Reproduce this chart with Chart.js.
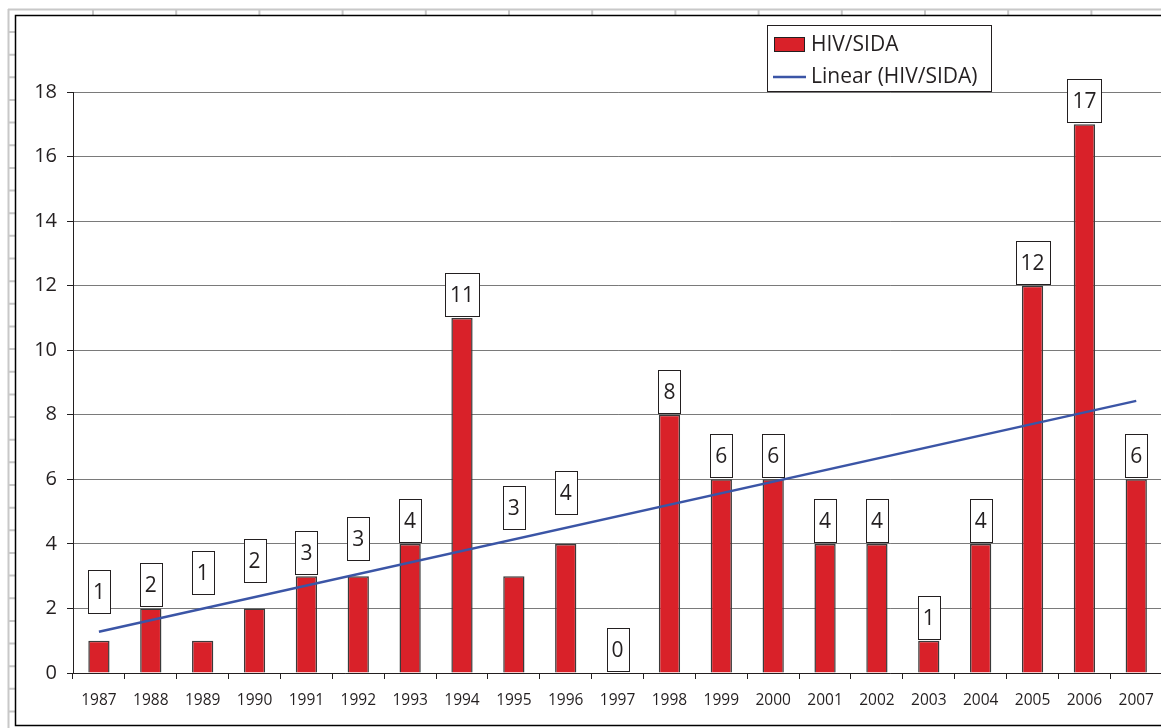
<!DOCTYPE html>
<html>
<head>
<meta charset="utf-8">
<title>HIV/SIDA 1987-2007</title>
<script src="https://cdn.jsdelivr.net/npm/chart.js@4.4.1/dist/chart.umd.min.js"></script>
<style>
  html, body { margin: 0; padding: 0; background: #fff; overflow: hidden; }
  #wrap { position: relative; width: 1166px; height: 728px; }
</style>
</head>
<body>
<div id="wrap"><canvas id="chart"></canvas></div>
<script>
// data
const years = ['1987', '1988', '1989', '1990', '1991', '1992', '1993', '1994', '1995', '1996', '1997',
  '1998', '1999', '2000', '2001', '2002', '2003', '2004', '2005', '2006', '2007'];
const cases = [1, 2, 1, 2, 3, 3, 4, 11, 3, 4, 0, 8, 6, 6, 4, 4, 1, 4, 12, 17, 6];
// Excel linear trend, only the two ends are drawn
const trend = [1.28, null, null, null, null, null, null, null, null, null, null,
  null, null, null, null, null, null, null, null, null, 8.43];
const yTicks = [0, 2, 4, 6, 8, 10, 12, 14, 16, 18];

const RED = '#d92129';
const BLUE = '#3b55a6';
const INK = '#231f20';
const FONT = "'Open Sans', sans-serif";

// labels that were dragged away from their bar (centre of box, in axis units)
const movedLabels = { 0: 2.52, 2: 3.10, 3: 3.49, 5: 4.17, 8: 5.13, 9: 5.58 };

// sheet cells + chart frame behind everything
const sheetBackground = {
  id: 'sheetBackground',
  beforeDraw(chart) {
    const ctx = chart.ctx;
    ctx.save();
    ctx.fillStyle = '#fff';
    ctx.fillRect(0, 0, chart.width, chart.height);
    ctx.strokeStyle = '#c8c8c8';
    ctx.lineWidth = 2;
    ctx.beginPath();
    ctx.moveTo(8.5, 9); ctx.lineTo(8.5, chart.height);
    ctx.moveTo(8, 9.5); ctx.lineTo(chart.width, 9.5);
    for (let y = 32; y < chart.height; y += 22.65) {
      ctx.moveTo(8, y); ctx.lineTo(15, y);
    }
    for (let x = 93; x < chart.width; x += 83.2) {
      ctx.moveTo(x, 9); ctx.lineTo(x, 15);
    }
    ctx.stroke();
    ctx.strokeStyle = '#000';
    ctx.lineWidth = 1.5;
    ctx.strokeRect(15.5, 15.5, chart.width + 20, 710);
    ctx.restore();
  }
};

// boxed value labels
const valueBoxes = {
  id: 'valueBoxes',
  afterDatasetsDraw(chart) {
    const ctx = chart.ctx;
    const meta = chart.getDatasetMeta(1);
    const yScale = chart.scales.y;
    ctx.save();
    ctx.font = '21px ' + FONT;
    ctx.textAlign = 'center';
    ctx.textBaseline = 'middle';
    meta.data.forEach((bar, i) => {
      const txt = String(cases[i]);
      const w = Math.round(ctx.measureText(txt).width) + 10;
      const h = 43;
      let cy = bar.y - 23.5;
      if (movedLabels[i] !== undefined) cy = yScale.getPixelForValue(movedLabels[i]);
      const x0 = Math.round(bar.x - w / 2) + 0.5;
      const y0 = Math.round(cy - h / 2) + 0.5;
      ctx.fillStyle = '#fff';
      ctx.fillRect(x0, y0, w, h);
      ctx.strokeStyle = INK;
      ctx.lineWidth = 1;
      ctx.strokeRect(x0, y0, w, h);
      ctx.fillStyle = INK;
      ctx.fillText(txt, bar.x, y0 + h / 2 + 1);
    });
    ctx.restore();
  }
};

// legend box like the excel one
const boxLegend = {
  id: 'boxLegend',
  afterDraw(chart) {
    const ctx = chart.ctx;
    ctx.save();
    ctx.fillStyle = '#fff';
    ctx.fillRect(767.5, 25.5, 224, 66);
    ctx.strokeStyle = INK;
    ctx.lineWidth = 1;
    ctx.strokeRect(767.5, 25.5, 224, 66);
    ctx.fillStyle = RED;
    ctx.fillRect(774.5, 37.5, 30, 14);
    ctx.strokeRect(774.5, 37.5, 30, 14);
    ctx.strokeStyle = BLUE;
    ctx.lineWidth = 2.5;
    ctx.beginPath();
    ctx.moveTo(773, 77); ctx.lineTo(806, 77);
    ctx.stroke();
    ctx.fillStyle = INK;
    ctx.font = '21px ' + FONT;
    ctx.textAlign = 'left';
    ctx.textBaseline = 'middle';
    ctx.fillText(chart.data.datasets[1].label, 811, 45);
    ctx.fillText(chart.data.datasets[0].label, 811, 77);
    ctx.restore();
  }
};

new Chart(document.getElementById('chart'), {
  data: {
    labels: years,
    datasets: [
      {
        type: 'line',
        label: 'Linear (HIV/SIDA)',
        data: trend,
        spanGaps: true,
        borderColor: BLUE,
        borderWidth: 2.5,
        pointRadius: 0,
        fill: false,
        order: 0
      },
      {
        type: 'bar',
        label: 'HIV/SIDA',
        data: cases,
        backgroundColor: RED,
        borderColor: '#3a3a3a',
        borderWidth: 1.5,
        categoryPercentage: 1,
        barPercentage: 0.41,
        order: 1
      }
    ]
  },
  options: {
    responsive: true,
    maintainAspectRatio: false,
    animation: false,
    layout: { padding: { left: 0, right: 1, top: 92, bottom: 0 } },
    plugins: {
      legend: { display: false },
      tooltip: { enabled: false }
    },
    scales: {
      x: {
        offset: true,
        grid: { offset: true, drawOnChartArea: false, tickLength: 6, tickColor: INK },
        border: { display: true, color: INK, width: 1 },
        ticks: { color: INK, font: { family: FONT, size: 15.5 }, padding: 12, maxRotation: 0, autoSkip: false },
        afterFit(scale) { scale.height = 55; }
      },
      y: {
        min: 0,
        max: 18,
        afterBuildTicks(scale) { scale.ticks = yTicks.map(v => ({ value: v })); },
        grid: { color: '#7a7a7a', lineWidth: 1, tickLength: 6, tickColor: INK },
        border: { display: true, color: INK, width: 1 },
        ticks: { color: INK, font: { family: FONT, size: 20 }, padding: 10 },
        afterFit(scale) { scale.width = 73; }
      }
    }
  },
  plugins: [sheetBackground, valueBoxes, boxLegend]
});
</script>
</body>
</html>
